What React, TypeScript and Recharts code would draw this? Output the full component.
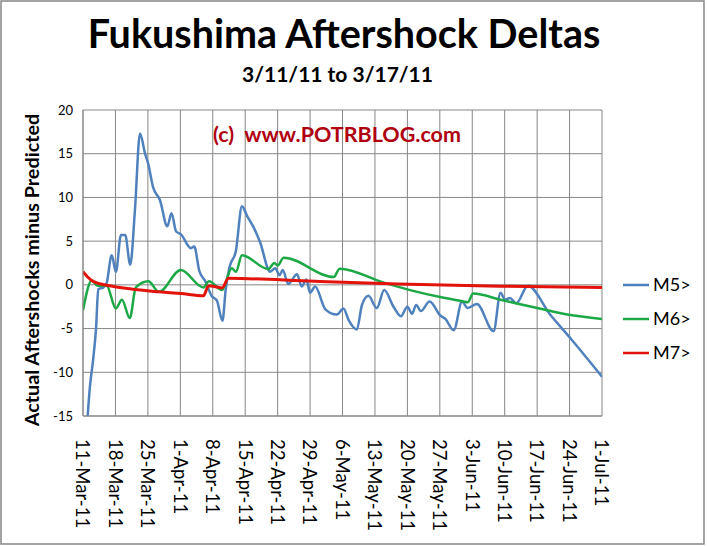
import React from "react";
import { LineChart, Line, XAxis, YAxis, CartesianGrid } from "recharts";

const FONT = "Lato, 'Open Sans', sans-serif";

const xTickDays = [0, 7, 14, 21, 28, 35, 42, 49, 56, 63, 70, 77, 84, 91, 98, 105, 112];
const xTickLabels = [
  "11-Mar-11", "18-Mar-11", "25-Mar-11", "1-Apr-11", "8-Apr-11", "15-Apr-11",
  "22-Apr-11", "29-Apr-11", "6-May-11", "13-May-11", "20-May-11", "27-May-11",
  "3-Jun-11", "10-Jun-11", "17-Jun-11", "24-Jun-11", "1-Jul-11",
];
const yTicks = [-15, -10, -5, 0, 5, 10, 15, 20];

// M5> (days since 11-Mar-11, delta)
const m5Days = [0, 1.5, 2.2, 2.8, 3.3, 4.4, 5.1, 6.2, 7.1, 8.2, 9.1, 10.2, 11.2, 12.3, 13.4, 14.1, 15.1, 16.6, 18.2, 19.1, 20.1, 21.1, 23.3, 24.0, 25.1, 26.4, 27.8, 28.9, 30.1, 30.8, 31.6, 33.0, 34.3, 35.4, 36.8, 38.2, 40.4, 41.5, 42.4, 43.1, 44.3, 46.2, 47.2, 48.2, 49.0, 50.1, 52.3, 54.8, 56.2, 57.3, 59.1, 60.2, 61.6, 63.4, 65.0, 67.0, 68.6, 70.0, 71.0, 71.9, 72.9, 74.8, 77.1, 78.2, 80.0, 81.8, 83.0, 85.0, 88.6, 90.1, 91.1, 92.1, 93.5, 96.0, 100.8, 105.5, 112];
const m5Values = [-24, -11.6, -8.5, -5.1, -0.5, -0.3, 0.2, 3.4, 1.5, 5.7, 5.7, 2.3, 8.5, 17.3, 15, 13.8, 11.2, 9.7, 6.7, 8.2, 6.1, 5.8, 4.2, 4.4, 1.6, 0.4, -1.3, -1.8, -4.1, -0.5, 2.0, 3.9, 9.0, 7.9, 6.6, 4.9, 1.5, 1.9, 1.1, 1.7, 0.1, 1.2, -0.2, 0.6, -0.9, -0.2, -2.8, -3.4, -2.7, -4.0, -5.1, -2.3, -1.25, -2.65, -0.6, -2.5, -3.6, -2.5, -3.3, -2.3, -3.0, -1.9, -3.5, -3.9, -5.2, -1.9, -2.65, -2.2, -5.3, -0.9, -1.7, -1.5, -2.1, -0.1, -3.4, -6.3, -10.5];

// M6>
const m6Days = [0, 1.9, 3.1, 5.1, 7.1, 8.4, 10.1, 11.4, 14.1, 16.4, 21.1, 26.0, 27.2, 30.0, 32.1, 33.0, 34.3, 40.0, 41.3, 42.0, 43.3, 54.1, 55.4, 64.9, 70.6, 77.1, 82.1, 83.0, 84.2, 90.1, 98.0, 104.5, 112];
const m6Values = [-2.9, 0.5, -0.1, -0.1, -2.7, -1.7, -3.8, -0.3, 0.4, -0.8, 1.7, -0.3, 0.4, -0.6, 1.9, 1.5, 3.4, 1.8, 2.5, 2.2, 3.1, 0.9, 1.85, 0.25, -0.6, -1.4, -1.9, -2.0, -1.0, -1.7, -2.65, -3.4, -3.9];

// M7>
const m7Days = [0, 1, 2.2, 5.8, 10.8, 16.4, 21.1, 26.0, 27.1, 30.0, 31.4, 50, 68, 90, 112];
const m7Values = [1.5, 0.9, 0.4, -0.1, -0.5, -0.8, -1.0, -1.25, -0.1, -0.35, 0.75, 0.4, 0.1, -0.15, -0.3];

const seriesNames = ["M5>", "M6>", "M7>"];
const seriesColors = ["#4F81BD", "#1DA846", "#E3120B"];

const toData = (days: number[], values: number[]) =>
  days.map((d, i) => ({ day: d, value: values[i] }));

const m5Data = toData(m5Days, m5Values);
const m6Data = toData(m6Days, m6Values);
const m7Data = toData(m7Days, m7Values);

const XTick = (props: any) => {
  const { x, y, payload } = props;
  const idx = xTickDays.indexOf(payload.value);
  return (
    <g transform={`translate(${x},${y})`}>
      <text
        transform="rotate(90)"
        x={21}
        y={0}
        dy="0.36em"
        textAnchor="start"
        fontFamily={FONT}
        fontSize={18.5}
        fill="#000"
      >
        {idx >= 0 ? xTickLabels[idx] : ""}
      </text>
    </g>
  );
};

export default function App() {
  const W = 707;
  const H = 546;
  return (
    <div style={{ position: "absolute", left: 0, top: 0, width: W, height: H, background: "#fff" }}>
      <LineChart
        width={W}
        height={H}
        margin={{ top: 110, right: 105, bottom: 0, left: 0 }}
      >
        <CartesianGrid stroke="#868686" strokeWidth={1} />
        <XAxis
          dataKey="day"
          type="number"
          domain={[0, 112]}
          ticks={xTickDays}
          interval={0}
          height={130}
          tickLine={false}
          tickSize={0}
          axisLine={{ stroke: "#868686" }}
          tick={<XTick />}
          allowDataOverflow
        />
        <YAxis
          type="number"
          domain={[-15, 20]}
          ticks={yTicks}
          interval={0}
          width={83}
          tickLine={false}
          tickSize={0}
          tickMargin={10}
          axisLine={{ stroke: "#868686" }}
          tick={{ fontFamily: FONT, fontSize: 13, fill: "#000" }}
          allowDataOverflow
        />
        <Line data={m5Data} dataKey="value" name={seriesNames[0]} type="monotone" stroke={seriesColors[0]} strokeWidth={2.5} dot={false} isAnimationActive={false} />
        <Line data={m6Data} dataKey="value" name={seriesNames[1]} type="monotone" stroke={seriesColors[1]} strokeWidth={2.5} dot={false} isAnimationActive={false} />
        <Line data={m7Data} dataKey="value" name={seriesNames[2]} type="monotone" stroke={seriesColors[2]} strokeWidth={3} dot={false} isAnimationActive={false} />
      </LineChart>
      <svg
        width={W}
        height={H}
        style={{ position: "absolute", left: 0, top: 0, pointerEvents: "none" }}
      >
        <rect x={1} y={1} width={703} height={543} fill="none" stroke="#868686" strokeWidth={1.5} />
        <text x={344} y={48} textAnchor="middle" fontFamily={FONT} fontWeight="bold" fontSize={39.5} fill="#000">
          Fukushima Aftershock Deltas
        </text>
        <text x={337.5} y={82} textAnchor="middle" fontFamily={FONT} fontWeight="bold" fontSize={21} fill="#000">
          3/11/11 to 3/17/11
        </text>
        <text x={337} y={141.5} textAnchor="middle" fontFamily={FONT} fontWeight="bold" fontSize={21.5} fill="#B00010" style={{ whiteSpace: "pre" }}>
          {"(c)  www.POTRBLOG.com"}
        </text>
        <text
          transform="translate(39,270) rotate(-90)"
          textAnchor="middle"
          fontFamily={FONT}
          fontWeight="bold"
          fontSize={19.8}
          fill="#000"
        >
          Actual Aftershocks minus Predicted
        </text>
        {seriesNames.map((name, i) => (
          <g key={name}>
            <line x1={623} x2={649} y1={285 + i * 34} y2={285 + i * 34} stroke={seriesColors[i]} strokeWidth={2.5} />
            <text x={653} y={285 + i * 34} dy="0.36em" fontFamily={FONT} fontSize={18} fill="#000">
              {name}
            </text>
          </g>
        ))}
      </svg>
    </div>
  );
}
